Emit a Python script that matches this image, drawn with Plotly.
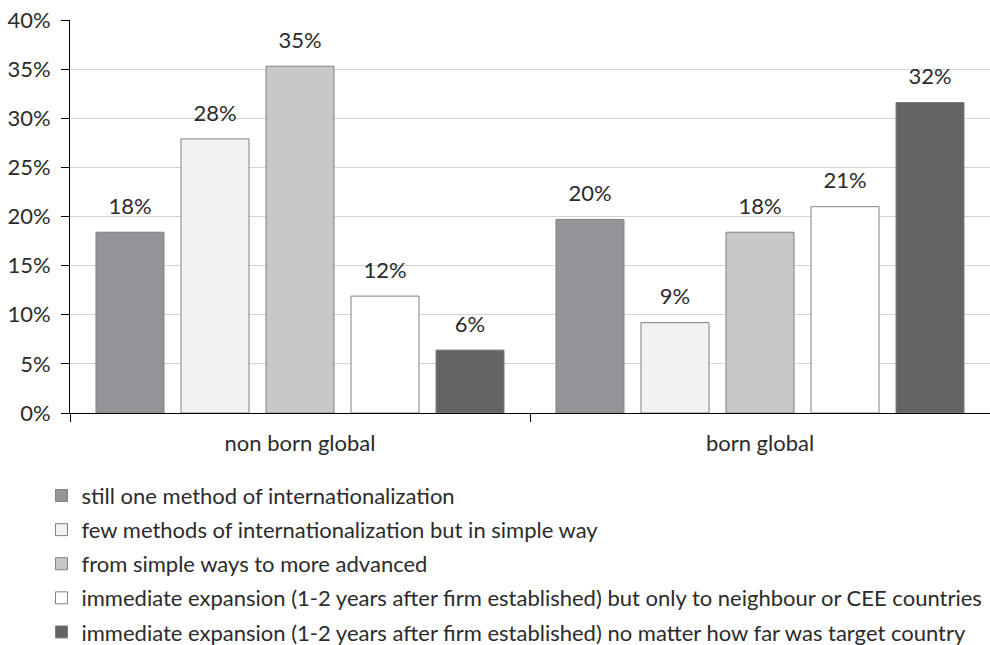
import plotly.graph_objects as go

categories = ["non born global", "born global"]
series_names = [
    "still one method of internationalization",
    "few methods of internationalization but in simple way",
    "from simple ways to more advanced",
    "immediate expansion (1-2 years after firm established) but only to neighbour or CEE countries",
    "immediate expansion (1-2 years after firm established) no matter how far was target country",
]
series_values = [
    [0.184, 0.197],
    [0.279, 0.092],
    [0.353, 0.184],
    [0.119, 0.210],
    [0.064, 0.316],
]
series_colors = ["#939598", "#f1f2f4", "#c7c8ca", "#ffffff", "#636466"]
y_ticks = [0, 0.05, 0.10, 0.15, 0.20, 0.25, 0.30, 0.35, 0.40]

FONT = "Lato"
TXT = "#2b2b2b"
FS = 22

fig = go.Figure()
for i, (name, vals, col) in enumerate(zip(series_names, series_values, series_colors)):
    fig.add_trace(go.Bar(
        name=name,
        x=categories,
        y=vals,
        offsetgroup=str(i),
        marker=dict(color=col, line=dict(color="#808080", width=1)),
        legendgroup=f"g{i}",
    ))
# data labels, placed in the same group slots as the bars
for i, vals in enumerate(series_values):
    fig.add_trace(go.Scatter(
        x=categories,
        y=vals,
        offsetgroup=str(i),
        mode="markers+text",
        marker=dict(size=19, color="rgba(0,0,0,0)"),
        text=[f"{v:.0%}" for v in vals],
        textposition="top center",
        textfont=dict(family=FONT, size=FS, color=TXT),
        cliponaxis=False,
        showlegend=False,
        hoverinfo="skip",
        legendgroup=f"g{i}",
    ))

fig.update_layout(
    width=990, height=645,
    margin=dict(l=70, r=0, t=20, b=232, autoexpand=False),
    paper_bgcolor="white", plot_bgcolor="white",
    barmode="group", bargap=0.076, bargroupgap=0.2,
    scattermode="group", scattergap=0.076,
    font=dict(family=FONT, size=FS, color=TXT),
    showlegend=True,
    legend=dict(
        x=-0.031, y=-0.610, xanchor="left", yanchor="bottom",
        font=dict(family=FONT, size=FS, color=TXT),
        tracegroupgap=2.5, traceorder="grouped",
        bgcolor="rgba(0,0,0,0)",
    ),
)
fig.update_yaxes(
    range=[0, 0.4], tickvals=y_ticks, tickformat=".0%",
    showgrid=True, gridcolor="#d4d4d4", gridwidth=1,
    showline=True, linecolor="black", linewidth=1,
    ticks="outside", ticklen=8, tickcolor="black",
    ticklabelstandoff=6,
    tickfont=dict(family=FONT, size=FS, color=TXT),
    zeroline=False,
)
fig.update_xaxes(
    showline=True, linecolor="black", linewidth=1,
    ticks="outside", ticklen=8, tickcolor="black", tickson="boundaries",
    ticklabelstandoff=11,
    tickfont=dict(family=FONT, size=FS, color=TXT),
)

fig.write_html("out.html")
